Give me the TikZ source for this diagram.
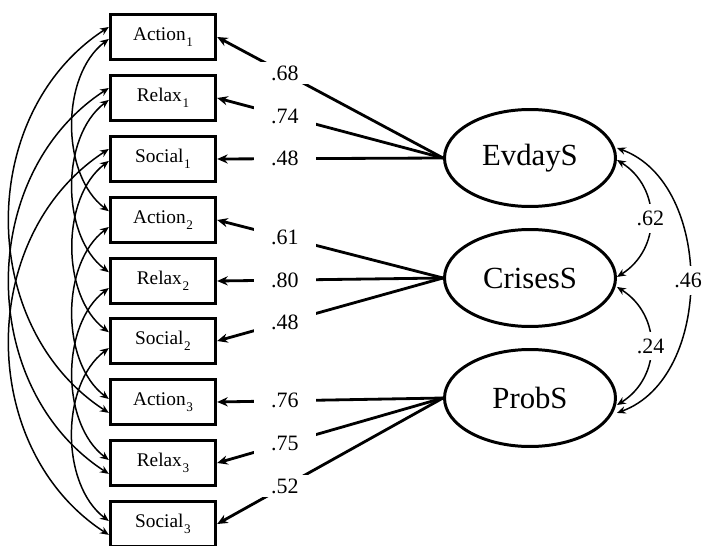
\documentclass[tikz,border=0pt]{standalone}
\usepackage{fontspec}
\setmainfont{Liberation Serif}
\usetikzlibrary{arrows.meta, shapes.geometric}
\newcommand{\tsub}[1]{\hspace{0.4pt}\raisebox{-3.2pt}{\fontsize{7.5}{8}\selectfont #1}}
\tikzstyle{obs}=[draw, shape=rectangle, line width=1.9pt, minimum width=2.1cm, minimum height=0.9cm, inner sep=0pt, font=\fontsize{11}{12}\selectfont]
\tikzstyle{lat}=[draw, shape=ellipse, line width=1.7pt, minimum width=3.42cm, minimum height=1.94cm, inner sep=0pt, font=\fontsize{17.5}{20}\selectfont]
\tikzstyle{load}=[line width=1.6pt, ->]
\tikzstyle{cov}=[line width=0.85pt, >={Stealth[length=5pt,width=4.2pt]}, <->]
\tikzstyle{wt}=[fill=white, inner xsep=10pt, inner ysep=2pt, font=\fontsize{12.5}{14}\selectfont]
\tikzstyle{cwt}=[fill=white, inner xsep=1pt, inner ysep=4pt, font=\fontsize{12.5}{14}\selectfont]
\tikzset{>={Stealth[length=6pt,width=5.2pt]}}

\begin{document}
\begin{tikzpicture}[x=0.02cm, y=0.02cm]
\useasboundingbox (0,0) rectangle (702,545);
% observed variables
\node[obs] (act1) at (163,508) {Action\tsub{1}};
\node[obs] (rel1) at (163,447) {Relax\tsub{1}};
\node[obs] (soc1) at (163,386) {Social\tsub{1}};
\node[obs] (act2) at (163,325) {Action\tsub{2}};
\node[obs] (rel2) at (163,264) {Relax\tsub{2}};
\node[obs] (soc2) at (163,204) {Social\tsub{2}};
\node[obs] (act3) at (163,143) {Action\tsub{3}};
\node[obs] (rel3) at (163,82) {Relax\tsub{3}};
\node[obs] (soc3) at (163,21) {Social\tsub{3}};
% latent variables
\node[lat] (evd) at (530,387) {EvdayS};
\node[lat] (cri) at (530,267) {CrisesS};
\node[lat] (prb) at (530,147) {ProbS};
%
\draw[load] (evd.west) -- node[wt, pos=0.7] {.68} (act1.east);
\draw[load] (evd.west) -- node[wt, pos=0.7] {.74} (rel1.east);
\draw[load] (evd.west) -- node[wt, pos=0.7] {.48} (soc1.east);
\draw[load] (cri.west) -- node[wt, pos=0.7] {.61} (act2.east);
\draw[load] (cri.west) -- node[wt, pos=0.7] {.80} (rel2.east);
\draw[load] (cri.west) -- node[wt, pos=0.7] {.48} (soc2.east);
\draw[load] (prb.west) -- node[wt, pos=0.7] {.76} (act3.east);
\draw[load] (prb.west) -- node[wt, pos=0.7] {.75} (rel3.east);
\draw[load] (prb.west) -- node[wt, pos=0.7] {.52} (soc3.east);
%
\draw[cov] ([yshift=-1.1pt]act1.west) to[out=217, in=143, looseness=0.9] ([yshift=5pt]act2.west);
\draw[cov] ([yshift=-1.1pt]rel1.west) to[out=217, in=143, looseness=0.9] ([yshift=5pt]rel2.west);
\draw[cov] ([yshift=-1.1pt]soc1.west) to[out=217, in=143, looseness=0.9] ([yshift=5pt]soc2.west);
\draw[cov] ([yshift=-4pt]act2.west) to[out=217, in=143, looseness=0.9] ([yshift=1.7pt]act3.west);
\draw[cov] ([yshift=-4pt]rel2.west) to[out=217, in=143, looseness=0.9] ([yshift=1.7pt]rel3.west);
\draw[cov] ([yshift=-4pt]soc2.west) to[out=217, in=143, looseness=0.9] ([yshift=1.7pt]soc3.west);
\draw[cov] ([yshift=5.7pt]act1.west) to[out=213, in=147, looseness=1.05] ([yshift=-6.2pt]act3.west);
\draw[cov] ([yshift=5.7pt]rel1.west) to[out=213, in=147, looseness=1.05] ([yshift=-6.2pt]rel3.west);
\draw[cov] ([yshift=5.7pt]soc1.west) to[out=213, in=147, looseness=1.05] ([yshift=-6.2pt]soc3.west);
%
\draw[cov] ([yshift=-1.1pt]evd.east) to[out=-32, in=32, looseness=1.15] node[cwt] {.62} ([yshift=0.6pt]cri.east);
\draw[cov] ([yshift=-5.1pt]cri.east) to[out=-32, in=32, looseness=1.15] node[cwt] {.24} ([yshift=-4pt]prb.east);
\draw[cov] ([yshift=5.7pt]evd.east) to[out=-20, in=20, looseness=1.0] node[cwt, xshift=-1pt] {.46} ([yshift=-8.5pt]prb.east);
\end{tikzpicture}
\end{document}
